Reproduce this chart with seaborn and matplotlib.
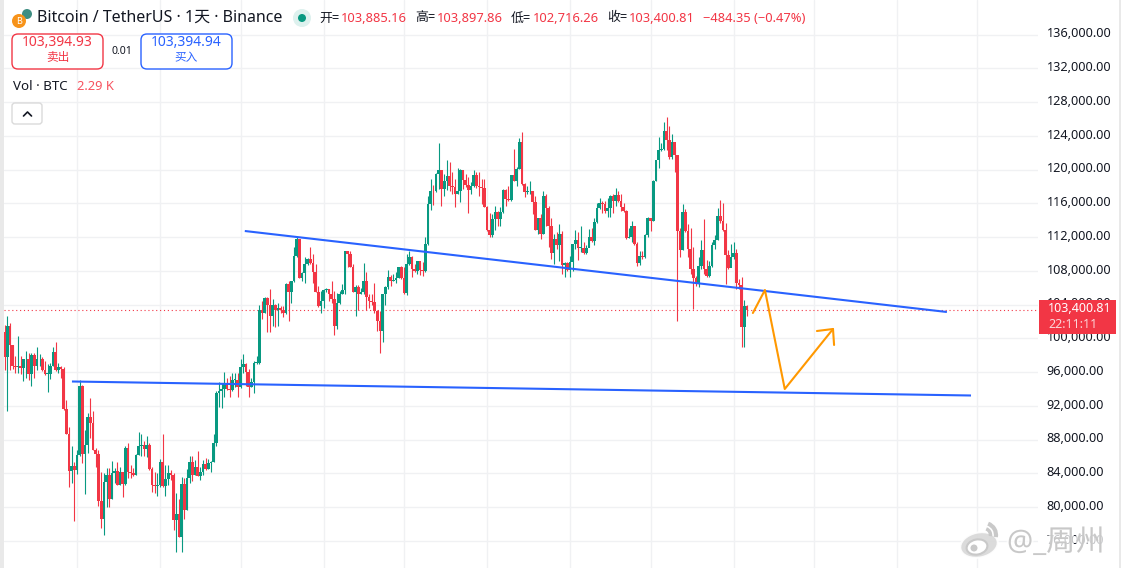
import numpy as np
import pandas as pd
import matplotlib
matplotlib.use("Agg")
import matplotlib.pyplot as plt
import seaborn as sns
from matplotlib.patches import Circle, Ellipse, FancyBboxPatch, Rectangle, Arc
from matplotlib.transforms import ScaledTranslation
import matplotlib.patheffects as pe

# -------------------------------
# Data (daily BTC/USDT, thousands of USD)
# -------------------------------

first_open = 100.8
closes = [
    97.8, 101.5, 99.2, 96.7, 96.6, 96.7, 96.5, 97.5, 97.5, 95.8,
    98.0, 96.7, 97.5, 97.6, 96.2, 95.8, 95.8, 96.7, 98.4, 96.2,
    96.6, 96.4, 91.6, 88.7, 84.3, 84.9, 84.4, 86.2, 94.4, 86.3,
    87.4, 90.7, 90.0, 86.8, 86.3, 80.7, 78.6, 83.0, 83.8, 81.0,
    84.0, 84.3, 82.6, 84.1, 82.7, 87.0, 84.2, 84.0, 83.8, 86.2,
    87.2, 87.4, 86.9, 87.4, 84.5, 82.6, 82.5, 82.6, 85.3, 82.5,
    83.3, 84.0, 83.8, 78.5, 79.2, 76.4, 82.7, 79.6, 83.5, 85.3,
    83.8, 84.7, 83.7, 84.1, 85.1, 84.5, 85.2, 85.3, 87.6, 93.5,
    93.7, 94.0, 94.7, 94.0, 93.9, 95.1, 95.1, 94.2, 96.6, 97.0,
    96.0, 94.2, 94.8, 97.1, 97.1, 103.3,
    103.0, 104.8, 104.0, 102.7, 104.0, 103.3, 103.6, 103.3, 103.0, 106.4,
    105.5, 106.8, 109.7, 111.8, 107.2, 107.7, 108.8, 109.4, 108.9, 107.8,
    105.5, 103.8, 104.4, 105.7, 105.8, 105.2, 104.7, 101.4, 104.2, 105.3,
    105.7, 110.3, 110.0, 108.5, 105.5, 106.1, 105.3, 105.5, 106.8, 104.9,
    104.4, 104.3, 103.2, 102.0, 100.9, 105.2, 106.1, 107.3, 106.8, 106.9,
    107.2, 108.4, 107.1, 105.4, 108.8, 109.6, 108.2, 108.0, 109.2, 108.1,
    108.0, 111.2, 115.9, 117.5, 117.4, 119.5, 119.9, 117.7, 118.6, 119.2,
    118.0, 117.9, 117.1, 117.4, 120.0, 118.7, 118.2, 117.6, 118.1, 119.4,
    118.0, 117.9, 117.8, 115.6, 112.8, 112.2,
    114.1, 115.0, 114.1, 115.0, 117.6, 116.5, 116.4, 119.3, 118.6, 120.1,
    123.3, 118.3, 117.3, 117.4, 117.4, 116.1, 112.8, 114.3, 112.4, 116.9,
    115.4, 113.3, 110.1, 111.8, 111.1, 112.4, 108.7, 108.9, 108.1, 109.1,
    111.2, 111.6, 110.7, 110.7, 110.1, 110.7, 112.0, 111.5, 113.8, 115.4,
    116.0, 115.9, 115.1, 115.4, 116.9, 116.3, 117.0, 116.3, 115.5, 115.1,
    111.9, 112.0, 113.3, 111.2, 108.9, 109.7, 109.6, 112.2, 114.3, 113.9,
    118.6, 121.1, 122.3, 122.4, 124.6, 123.5, 121.5, 123.3, 121.7, 112.7,
    110.5, 115.0, 112.7, 110.6, 108.2, 107.1, 106.4, 108.6, 110.5, 108.2,
    107.4, 108.6, 111.0, 111.6, 114.5, 113.9, 112.8, 109.9, 108.3, 109.6,
    110.1, 106.5, 106.3, 101.3, 103.8, 103.4,
]
highs = [
    101.6, 102.7, 101.8, 99.2, 97.9, 100.3, 97.9, 97.5, 98.5, 98.3,
    98.3, 98.3, 99.0, 98.1, 97.8, 97.3, 96.9, 97.1, 99.0, 99.6,
    97.1, 96.7, 96.6, 92.7, 89.5, 87.2, 85.3, 86.8, 95.1, 94.5,
    89.1, 91.2, 92.9, 91.4, 87.0, 86.8, 84.2, 84.0, 84.6, 84.6,
    85.5, 84.6, 85.3, 84.8, 84.1, 87.2, 87.6, 85.0, 84.6, 86.3,
    88.9, 88.7, 87.8, 88.4, 87.6, 84.7, 84.1, 84.0, 85.7, 88.7,
    85.0, 85.0, 84.4, 84.0, 81.7, 80.9, 83.6, 83.4, 84.5, 86.1,
    86.1, 85.6, 86.7, 84.8, 85.6, 85.8, 85.7, 85.5, 88.6, 93.7,
    94.8, 94.7, 96.0, 95.3, 95.5, 95.9, 95.9, 95.9, 97.5, 98.1,
    97.1, 96.4, 95.3, 97.3, 97.9, 104.0,
    104.4, 104.9, 104.9, 105.8, 104.6, 104.1, 104.2, 103.8, 103.8, 106.5,
    106.8, 106.8, 110.8, 112.0, 111.8, 107.8, 109.6, 109.5, 110.8, 110.0,
    108.8, 106.2, 105.6, 105.9, 106.0, 105.8, 106.8, 105.6, 105.4, 105.6,
    106.4, 110.4, 110.4, 110.4, 108.8, 106.3, 106.3, 106.0, 108.9, 107.8,
    105.3, 105.2, 106.6, 103.4, 103.2, 105.3, 106.2, 108.1, 107.5, 107.6,
    107.8, 108.5, 108.6, 108.5, 110.0, 110.4, 109.8, 108.8, 109.2, 109.1,
    109.1, 112.0, 116.9, 118.9, 118.2, 119.6, 123.2, 120.0, 119.5, 121.1,
    120.9, 119.7, 118.9, 120.2, 120.1, 120.0, 119.5, 119.1, 118.5, 119.9,
    119.7, 119.7, 118.9, 118.9, 115.7, 114.8,
    114.7, 115.7, 115.1, 115.5, 117.7, 117.7, 118.0, 119.3, 122.4, 120.3,
    123.7, 124.5, 118.4, 118.1, 118.6, 117.5, 116.9, 114.3, 114.7, 117.4,
    117.1, 115.7, 114.3, 112.4, 112.6, 113.5, 112.7, 109.0, 109.0, 109.8,
    111.2, 112.8, 112.6, 113.3, 111.4, 111.0, 112.9, 113.1, 114.3, 116.0,
    116.6, 116.3, 116.3, 116.6, 117.0, 117.1, 117.8, 117.5, 117.1, 116.0,
    115.2, 113.1, 113.9, 113.3, 111.4, 110.4, 110.4, 112.4, 114.4, 114.3,
    118.7, 121.1, 123.9, 123.2, 125.6, 126.2, 125.1, 124.2, 122.7, 121.7,
    113.1, 115.9, 115.3, 113.5, 113.1, 110.8, 107.4, 109.6, 111.6, 114.1,
    109.3, 109.2, 111.4, 112.2, 115.4, 116.4, 116.0, 113.7, 110.5, 111.2,
    111.4, 110.6, 107.0, 107.3, 104.5, 103.9,
]
lows = [
    96.3, 91.4, 96.3, 96.4, 95.9, 95.9, 95.8, 94.9, 95.3, 95.0,
    94.3, 95.3, 96.3, 96.7, 96.1, 95.7, 93.6, 95.2, 96.7, 96.1,
    95.9, 95.3, 91.5, 88.7, 82.4, 82.9, 78.4, 83.9, 86.1, 85.2,
    81.5, 86.4, 88.2, 86.8, 84.8, 80.1, 77.5, 76.7, 80.0, 80.0,
    81.0, 82.8, 82.6, 82.6, 81.2, 82.6, 83.4, 83.4, 83.7, 83.8,
    86.2, 86.0, 86.0, 85.9, 84.4, 81.8, 81.7, 81.3, 82.4, 82.4,
    81.3, 82.6, 83.2, 77.3, 74.7, 76.4, 74.7, 78.6, 79.6, 82.9,
    83.1, 83.8, 83.7, 83.2, 83.8, 84.4, 84.5, 84.1, 85.3, 87.2,
    91.9, 91.7, 93.0, 93.9, 93.0, 93.8, 94.2, 93.0, 94.1, 95.9,
    94.3, 93.0, 94.2, 93.5, 97.0, 97.0,
    102.3, 103.0, 100.8, 100.8, 101.5, 101.3, 101.4, 103.0, 102.5, 102.9,
    102.0, 104.2, 106.7, 109.6, 107.1, 106.8, 106.6, 108.7, 108.8, 106.6,
    105.5, 103.7, 103.0, 103.6, 105.5, 104.4, 104.2, 100.4, 101.1, 104.1,
    105.2, 105.3, 108.4, 108.4, 105.5, 102.7, 103.4, 105.2, 105.3, 103.4,
    103.6, 104.0, 103.0, 100.9, 98.2, 99.6, 104.0, 105.8, 106.2, 106.8,
    106.6, 107.1, 107.0, 105.3, 105.1, 108.7, 107.3, 107.8, 107.6, 107.5,
    107.4, 107.8, 111.1, 115.2, 115.8, 117.3, 117.7, 115.7, 116.9, 117.6,
    117.4, 117.1, 115.6, 117.1, 116.2, 117.7, 117.9, 114.8, 117.1, 117.9,
    117.8, 116.9, 115.9, 115.5, 112.7, 112.0,
    112.0, 112.8, 113.3, 113.3, 114.9, 115.7, 116.3, 116.3, 118.6, 118.1,
    120.1, 118.2, 116.8, 117.1, 117.1, 114.7, 112.8, 112.4, 111.8, 112.4,
    113.3, 110.8, 109.4, 108.8, 110.6, 109.2, 107.6, 107.3, 108.0, 107.3,
    108.0, 110.6, 109.3, 110.2, 110.0, 110.0, 110.8, 111.4, 111.0, 113.7,
    115.3, 114.9, 114.9, 114.4, 114.4, 114.8, 115.7, 116.2, 115.1, 115.0,
    111.8, 111.9, 111.4, 111.0, 108.6, 108.7, 109.4, 109.5, 112.0, 112.7,
    113.9, 118.6, 120.2, 122.2, 122.3, 122.3, 121.2, 121.2, 119.7, 102.0,
    109.6, 110.5, 112.6, 109.6, 107.6, 103.5, 106.2, 106.1, 108.2, 107.6,
    107.3, 107.3, 108.4, 110.6, 111.6, 113.7, 112.7, 106.4, 108.2, 109.4,
    109.4, 105.8, 105.8, 99.0, 99.0, 102.6,
]

price_ticks = [136000, 132000, 128000, 124000, 120000, 116000, 112000, 108000,
               104000, 100000, 96000, 92000, 88000, 84000, 80000, 76000]
month_days = [27, 58, 88, 119, 149, 180, 211, 241, 272, 302, 333, 363]
last_price = 103400.81

# hand drawn lines on the chart: (day, price)
upper_line = ([89.6, 351.6], [112715, 103117])
lower_line = ([25.1, 360.6], [94881, 93222])
arrow_path = ([279.2, 283.7, 291.1, 309.1], [102998, 105724, 93992, 101102])
arrow_head = ([303.1, 309.1, 309.5], [100865, 101102, 99206])

UP = "#089981"
DOWN = "#F23645"
BLUE = "#2962FF"
ORANGE = "#FF9800"
W, H = 1121, 568

sns.set_theme(style="white")
plt.rcParams["font.family"] = ["Noto Sans", "Noto Sans CJK SC", "DejaVu Sans"]

# -------------------------------
# Candle table
# -------------------------------

closes_usd = np.array(closes) * 1000
opens_usd = np.r_[first_open * 1000, closes_usd[:-1]]
df = pd.DataFrame({
    "day": np.arange(len(closes)),
    "open": opens_usd,
    "close": closes_usd,
    "high": np.array(highs) * 1000,
    "low": np.array(lows) * 1000,
})
df["body"] = (df["close"] - df["open"]).abs().clip(lower=70)
df["base"] = df[["open", "close"]].min(axis=1)
df["up"] = df["close"] >= df["open"]

fig = plt.figure(figsize=(W / 100, H / 100), dpi=100, facecolor="white")
ax = fig.add_axes([4 / W, 0, (1038 - 4) / W, 1])

# -------------------------------
# Candles
# -------------------------------

for is_up, colour in [(True, UP), (False, DOWN)]:
    part = df[df["up"] == is_up]
    ax.vlines(part["day"], part["low"], part["high"], color=colour, lw=0.8, zorder=3)
    sns.barplot(data=part, x="day", y="body", bottom=part["base"].values, native_scale=True,
                color=colour, saturation=1, width=1.0, errorbar=None, linewidth=0,
                antialiased=False, ax=ax, zorder=4)

ax.plot(*upper_line, color=BLUE, lw=1.5, zorder=5, solid_capstyle="butt")
ax.plot(*lower_line, color=BLUE, lw=1.5, zorder=5, solid_capstyle="butt")
ax.plot(*arrow_path, color=ORANGE, lw=1.5, zorder=6)
ax.plot(*arrow_head, color=ORANGE, lw=1.5, zorder=6)
ax.axhline(last_price, color=DOWN, lw=0.8, ls=(0, (1, 2.5)), zorder=2)

ax.set_xlim(-0.26, 385.6)
ax.set_ylim(72780, 140089)
ax.set_xlabel("")
ax.set_ylabel("")
ax.set_xticks(month_days)
ax.set_xticklabels([])
ax.set_yticks(price_ticks)
ax.set_yticklabels([f"{p:,.2f}" for p in price_ticks])
ax.yaxis.tick_right()
ax.tick_params(axis="y", length=0, pad=6.3, labelsize=9.1, labelcolor="#131722")
ax.tick_params(axis="x", length=0)
ax.grid(True, color="#F0F1F3", lw=1)
ax.set_axisbelow(True)
sns.despine(ax=ax, left=True, right=True, top=True, bottom=True)

# price labels sit a little above their grid lines
nudge = ScaledTranslation(0, 1.5 / 72, fig.dpi_scale_trans)
for label in ax.get_yticklabels():
    label.set_transform(label.get_transform() + nudge)

# -------------------------------
# Legend strip, price tag, watermark (drawn in pixel space)
# -------------------------------

top = fig.add_axes([0, 0, 1, 1], zorder=10)
top.set_xlim(0, W)
top.set_ylim(H, 0)
top.set_axis_off()
top.patch.set_alpha(0)

top.add_patch(Rectangle((0, 0), 4, H, color="#E9E9E9", lw=0))
top.add_patch(Rectangle((1119, 0), 2, H, color="#E9E9E9", lw=0))

# coin icon and market dot
top.add_patch(Circle((27, 14), 5, color="#3E8E83", lw=0))
top.add_patch(Circle((19, 21), 7, color="#F7931A", lw=0))
top.text(19, 21, "B", color="white", fontsize=6.5, ha="center", va="center", weight="bold")
top.add_patch(Circle((302, 18), 9, color="#DDF1EE", lw=0))
top.add_patch(Circle((302, 18), 4, color=UP, lw=0))

top.text(37, 18, "Bitcoin / TetherUS · 1天 · Binance", fontsize=11.5, color="#131722", va="center")

ohlc_parts = [(319, "开=", "#131722"), (341, "103,885.16", DOWN),
              (415, "高=", "#131722"), (437, "103,897.86", DOWN),
              (511, "低=", "#131722"), (533, "102,716.26", DOWN),
              (607, "收=", "#131722"), (629, "103,400.81", DOWN),
              (703, "−484.35 (−0.47%)", DOWN)]
for px, label, colour in ohlc_parts:
    top.text(px, 18, label, fontsize=9.3, color=colour, va="center")

for x0, colour, price, word in [(12, DOWN, "103,394.93", "卖出"), (141, BLUE, "103,394.94", "买入")]:
    top.add_patch(FancyBboxPatch((x0, 34), 91, 35, boxstyle="round,pad=0,rounding_size=6",
                                 fc="white", ec=colour, lw=1))
    top.text(x0 + 45.5, 43, price, color=colour, fontsize=10, ha="center", va="center")
    top.text(x0 + 45.5, 59, word, color=colour, fontsize=8.4, ha="center", va="center")
top.text(122, 52, "0.01", color="#131722", fontsize=7.6, ha="center", va="center")

top.text(13, 87, "Vol · BTC", fontsize=9.6, color="#131722", va="center")
top.text(77, 87, "2.29 K", fontsize=9.3, color="#F7525F", va="center")

top.add_patch(FancyBboxPatch((12, 103), 30, 21, boxstyle="round,pad=0,rounding_size=3",
                             fc="white", ec="#DADADA", lw=1))
top.plot([23.5, 27.5, 31.5], [116, 112, 116], color="#131722", lw=1.2)

top.add_patch(Rectangle((1039, 300), 77, 34, color=DOWN, lw=0))
top.text(1048, 309, "103,400.81", color="white", fontsize=9, va="center", weight="bold")
top.text(1048, 324, "22:11:11", color="#FBD5D9", fontsize=9, va="center", weight="bold")

# weibo mark
halo = [pe.withStroke(linewidth=3, foreground="white", alpha=0.75)]
mark = "#C9C9C9"
top.add_patch(Ellipse((979, 545), 38, 25, angle=-12, fc="#D8D8D8", ec="white", lw=1.5, alpha=0.9))
top.add_patch(Ellipse((977, 547), 21, 15, angle=-12, fc="white", ec=mark, lw=1.5))
top.add_patch(Circle((974, 548), 3.5, color=mark, lw=0))
top.add_patch(Arc((984, 535), 24, 24, theta1=-70, theta2=10, color=mark, lw=3))
top.add_patch(Arc((984, 535), 13, 13, theta1=-70, theta2=10, color=mark, lw=2.5))
top.text(1007, 543, "@_周州", color="#C4C4C4", fontsize=21, va="center", path_effects=halo, alpha=0.9)

fig.savefig("out.png", dpi=100, facecolor="white")
